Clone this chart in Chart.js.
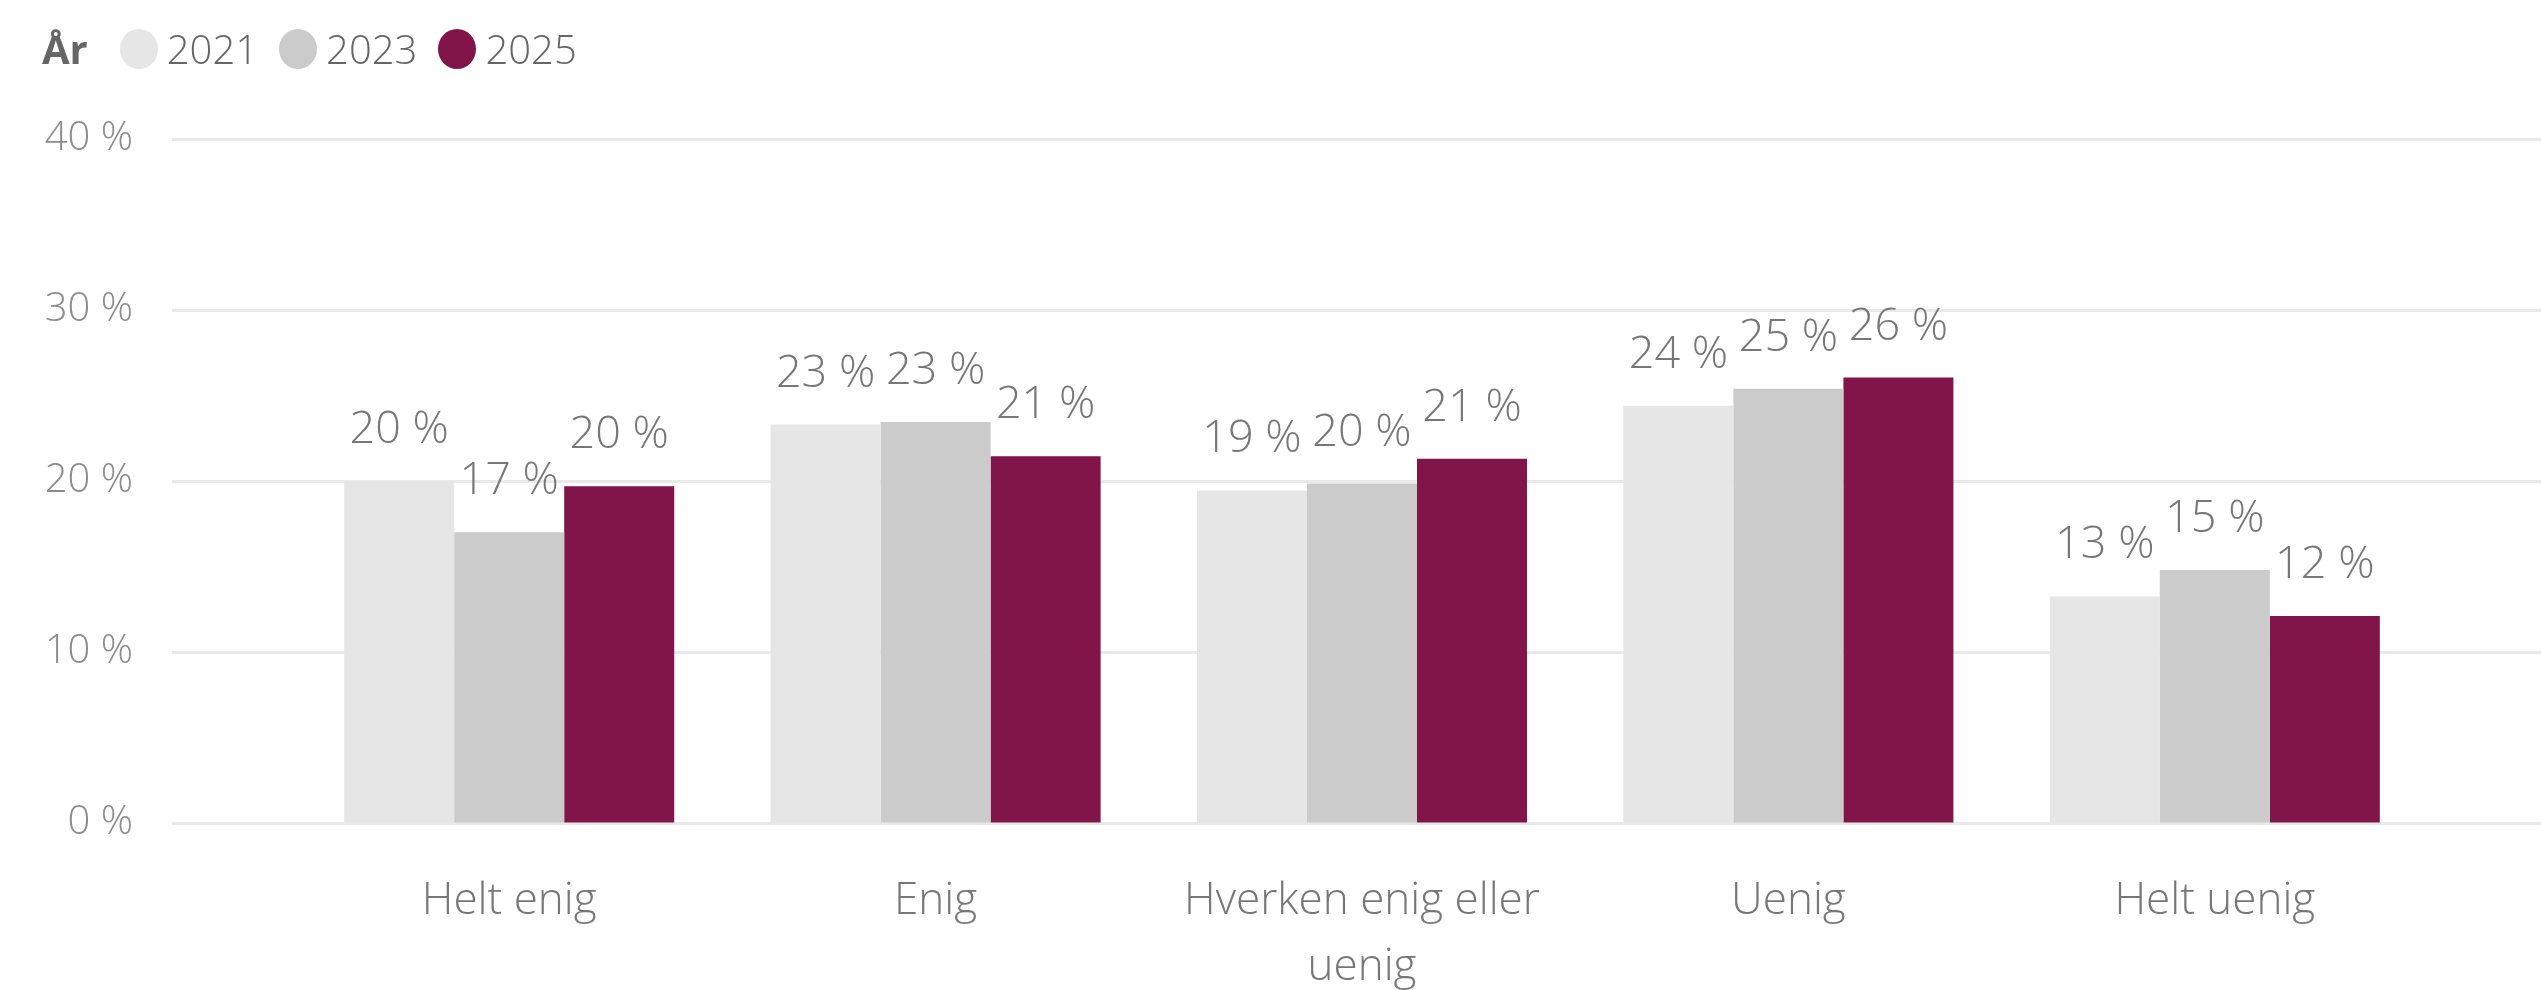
<!DOCTYPE html>
<html>
<head>
<meta charset="utf-8">
<script src="https://cdn.jsdelivr.net/npm/chart.js@4/dist/chart.umd.min.js"></script>
<style>
  html, body { margin: 0; padding: 0; background: #fff; }
  #wrap { position: relative; width: 2541px; height: 990px; }
  #chart { display: block; }
  #legend { position: absolute; left: 42px; top: 21px; display: flex; align-items: center;
            font-family: "Open Sans", sans-serif; font-weight: 300; font-size: 40px; color: #666; }
  #legend .title { font-weight: 700; color: #666; margin-right: 32px; }
  #legend .item { display: flex; align-items: center; margin-right: 21px; }
  #legend .dot { width: 38px; height: 40px; border-radius: 50%; margin-right: 9px; }
</style>
</head>
<body>
<div id="wrap">
  <canvas id="chart" width="2541" height="990"></canvas>
  <div id="legend"></div>
</div>
<script>
const categories = ['Helt enig', 'Enig', ['Hverken enig eller', 'uenig'], 'Uenig', 'Helt uenig'];
const years = ['2021', '2023', '2025'];
const values_2021 = [20.0, 23.3, 19.45, 24.4, 13.25];
const values_2023 = [17.0, 23.45, 19.85, 25.4, 14.8];
const values_2025 = [19.7, 21.45, 21.3, 26.05, 12.1];
const year_colors = ['#e6e6e6', '#cbcbcb', '#811549'];
const y_ticks = [0, 10, 20, 30, 40];

const series = [values_2021, values_2023, values_2025];

// legend in html, "År" + dots
const legend = document.getElementById('legend');
legend.innerHTML = '<span class="title">År</span>' + years.map((y, i) =>
    '<span class="item"><span class="dot" style="background:' + year_colors[i] + '"></span>' + y + '</span>'
).join('');

// gridlines that run past the plot area like in the original
const wideGrid = {
    id: 'wideGrid',
    beforeDatasetsDraw(chart) {
        const ctx = chart.ctx;
        const y = chart.scales.y;
        ctx.save();
        ctx.strokeStyle = '#e9e9e9';
        ctx.lineWidth = 3;
        y_ticks.forEach(t => {
            const py = Math.round(y.getPixelForValue(t)) + 0.5;
            ctx.beginPath();
            ctx.moveTo(chart.chartArea.left - 124, py);
            ctx.lineTo(chart.width, py);
            ctx.stroke();
        });
        ctx.restore();
    }
};

// value labels above bars
const barLabels = {
    id: 'barLabels',
    afterDatasetsDraw(chart) {
        const ctx = chart.ctx;
        ctx.save();
        ctx.font = '300 45px "Open Sans", sans-serif';
        ctx.fillStyle = '#777777';
        ctx.textAlign = 'center';
        ctx.textBaseline = 'alphabetic';
        chart.data.datasets.forEach((ds, i) => {
            chart.getDatasetMeta(i).data.forEach((bar, j) => {
                ctx.fillText(Math.round(ds.data[j]) + ' %', bar.x, bar.y - 38);
            });
        });
        ctx.restore();
    }
};

new Chart(document.getElementById('chart'), {
    type: 'bar',
    data: {
        labels: categories,
        datasets: years.map((y, i) => ({
            label: y,
            data: series[i],
            backgroundColor: year_colors[i],
            borderWidth: 0,
            barPercentage: 1.0,
            categoryPercentage: 0.774
        }))
    },
    options: {
        responsive: false,
        animation: false,
        devicePixelRatio: 1,
        layout: {
            padding: { top: 139, right: 113, left: 0, bottom: 0 }
        },
        plugins: {
            legend: { display: false },
            tooltip: { enabled: false }
        },
        scales: {
            x: {
                grid: { display: false, drawTicks: false },
                border: { display: false },
                ticks: {
                    color: '#777777',
                    padding: 45,
                    maxRotation: 0,
                    autoSkip: false,
                    font: { family: 'Open Sans', weight: 300, size: 44, lineHeight: 1.5 }
                },
                afterFit: s => { s.height = 167; }
            },
            y: {
                min: 0,
                max: 40,
                // invisible tick marks push the labels away from the plot
                grid: { display: true, drawOnChartArea: false, drawTicks: true, tickLength: 163, color: 'rgba(0,0,0,0)' },
                border: { display: false },
                ticks: {
                    stepSize: 10,
                    color: '#8c8c8c',
                    padding: 0,
                    font: { family: 'Open Sans', weight: 300, size: 40 },
                    callback: v => v + ' %'
                },
                afterFit: s => { s.width = 296; }
            }
        }
    },
    plugins: [wideGrid, barLabels]
});
</script>
</body>
</html>
